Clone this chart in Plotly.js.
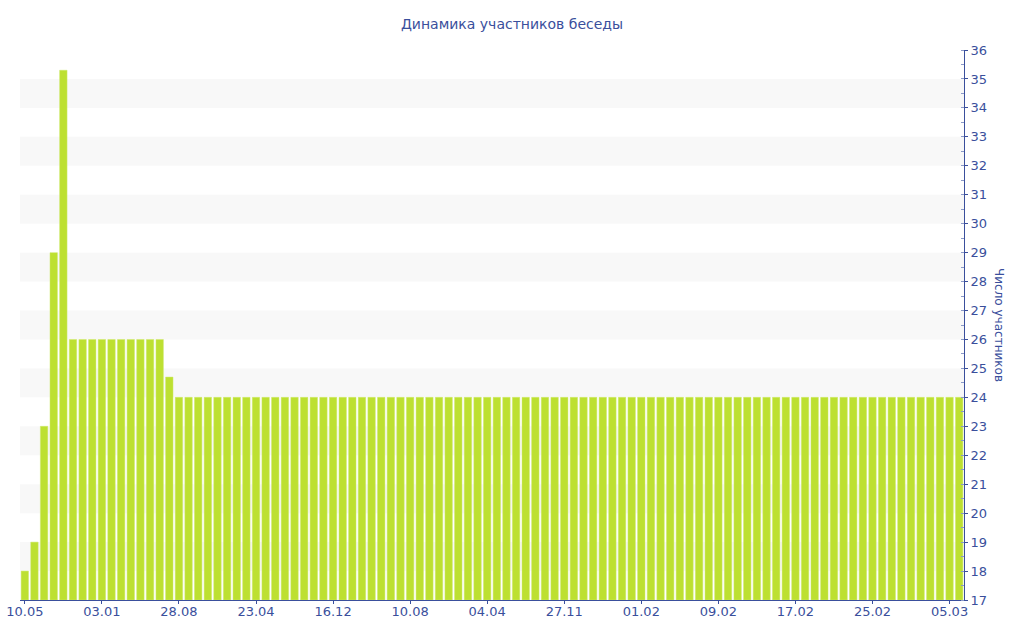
<!DOCTYPE html>
<html>
<head>
<meta charset="utf-8">
<script src="https://cdn.plot.ly/plotly-3.0.1.min.js"></script>
<style>html,body{margin:0;padding:0;background:#fff;}#chart{width:1024px;height:640px;}</style>
</head>
<body>
<div id="chart"></div>
<script>
var tickLabels = ["10.05","03.01","28.08","23.04","16.12","10.08","04.04","27.11","01.02","09.02","17.02","25.02","05.03"];
var tickEvery = 8;
var participants = [
  18, 19, 23, 29, 35.3,
  26, 26, 26, 26, 26, 26, 26, 26, 26, 26,
  24.7,
  24, 24, 24, 24, 24, 24, 24, 24, 24, 24,
  24, 24, 24, 24, 24, 24, 24, 24, 24, 24,
  24, 24, 24, 24, 24, 24, 24, 24, 24, 24,
  24, 24, 24, 24, 24, 24, 24, 24, 24, 24,
  24, 24, 24, 24, 24, 24, 24, 24, 24, 24,
  24, 24, 24, 24, 24, 24, 24, 24, 24, 24,
  24, 24, 24, 24, 24, 24, 24, 24, 24, 24,
  24, 24, 24, 24, 24, 24, 24, 24, 24, 24,
  24, 24
];
var yMin = 17, yMax = 36;

var idx = participants.map(function(_, i){ return i; });
var tickvals = tickLabels.map(function(_, i){ return i * tickEvery; });

var blue = "#3a4f9c";
var shapes = [];
for (var b = yMin + 1; b < yMax - 1; b += 2) {
  shapes.push({type:"rect", xref:"paper", yref:"y", x0:0, x1:1, y0:b, y1:b+1,
    fillcolor:"#f8f8f8", line:{width:0}, layer:"below"});
}

var trace = {
  type: "bar",
  x: idx,
  y: participants.map(function(v){ return v - yMin; }),
  base: yMin,
  marker: {color: "#bde031", line:{color:"#cde86a", width:0.5}},
  hoverinfo: "y"
};

var layout = {
  width: 1024, height: 640,
  margin: {l: 20, r: 60, t: 50, b: 40},
  paper_bgcolor: "#fff", plot_bgcolor: "rgba(0,0,0,0)",
  font: {family: "DejaVu Sans, Verdana, sans-serif", size: 13, color: blue},
  title: {text: "Динамика участников беседы", x: 0.5, xanchor: "center", y: 0.963, yanchor: "middle",
          font: {size: 14, color: blue}},
  bargap: 0.23,
  showlegend: false,
  xaxis: {
    range: [-0.5, participants.length - 0.5],
    tickmode: "array", tickvals: tickvals, ticktext: tickLabels,
    showgrid: false, zeroline: false,
    showline: true, linecolor: blue, linewidth: 1,
    ticks: "outside", ticklen: 3, tickcolor: blue,
    ticklabelstandoff: -4,
    tickfont: {size: 13, color: blue}, fixedrange: true
  },
  yaxis: {
    side: "right",
    range: [yMin, yMax],
    dtick: 1, tick0: yMin,
    showgrid: false, zeroline: false,
    showline: true, linecolor: blue, linewidth: 1,
    ticks: "outside", ticklen: 3, tickcolor: blue,
    ticklabelstandoff: 0,
    minor: {dtick: 0.5, ticks: "inside", ticklen: 3, tickcolor: "#8c9ac8", showgrid: false},
    tickfont: {size: 13, color: blue}, fixedrange: true
  },
  shapes: shapes,
  annotations: [{
    text: "Число участников", xref: "paper", yref: "paper", x: 1.037, y: 0.5,
    xanchor: "center", yanchor: "middle", textangle: 90, showarrow: false,
    font: {size: 12, color: blue}
  }]
};

Plotly.newPlot("chart", [trace], layout, {displayModeBar: false, staticPlot: true});
</script>
</body>
</html>
